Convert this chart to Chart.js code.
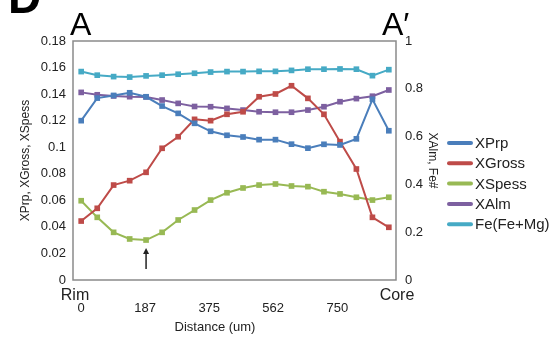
<!DOCTYPE html>
<html>
<head>
<meta charset="utf-8">
<script src="https://cdn.jsdelivr.net/npm/chart.js@4"></script>
<style>
  html, body { margin: 0; padding: 0; background: #fff; }
</style>
</head>
<body>
<canvas id="chart" width="556" height="349"></canvas>
<script>
  // distance along traverse (um), rim -> core
  const distance = [0, 47, 95, 142, 190, 237, 284, 332, 379, 427, 474, 521, 569, 616, 664, 711, 758, 806, 853, 901];
  const xTickValues = [0, 187, 375, 562, 750];

  const xPrp = [0.120, 0.137, 0.139, 0.141, 0.138, 0.131, 0.1255, 0.118, 0.112, 0.109, 0.1077, 0.1057, 0.1057, 0.1023, 0.0993, 0.1022, 0.1017, 0.1063, 0.1361, 0.1124];
  const xGross = [0.0444, 0.054, 0.0715, 0.0748, 0.0811, 0.0992, 0.1079, 0.121, 0.120, 0.1248, 0.1267, 0.138, 0.1401, 0.1463, 0.1368, 0.1248, 0.1042, 0.0836, 0.0472, 0.0397];
  const xSpess = [0.0597, 0.0472, 0.0359, 0.0309, 0.0301, 0.0359, 0.0452, 0.0527, 0.0602, 0.0657, 0.0693, 0.0715, 0.0723, 0.0708, 0.0703, 0.0665, 0.0648, 0.0623, 0.0602, 0.0623];
  const xAlm = [0.785, 0.775, 0.770, 0.767, 0.766, 0.753, 0.739, 0.726, 0.725, 0.718, 0.711, 0.704, 0.702, 0.702, 0.711, 0.725, 0.746, 0.759, 0.769, 0.795];
  const feNum = [0.872, 0.857, 0.851, 0.849, 0.854, 0.857, 0.861, 0.865, 0.870, 0.872, 0.872, 0.873, 0.873, 0.877, 0.882, 0.882, 0.883, 0.882, 0.855, 0.880];

  const FONT = "'Liberation Sans', Arial, sans-serif";
  const TXT = "#222";

  const pts = (arr) => arr.map((v, i) => ({ x: distance[i], y: v }));
  const series = (label, arr, color, axis) => ({
    label,
    data: pts(arr),
    yAxisID: axis,
    borderColor: color,
    backgroundColor: color,
    borderWidth: 2,
    pointStyle: "rect",
    pointRadius: 4,
    pointBorderWidth: 0,
    tension: 0,
  });

  // frame, annotations and legend drawn on top of the chart
  const decor = {
    id: "decor",
    beforeDatasetsDraw(chart) {
      const { ctx, chartArea: a } = chart;
      ctx.save();
      ctx.strokeStyle = "#8a8a8a";
      ctx.lineWidth = 1.5;
      ctx.strokeRect(a.left, a.top, a.right - a.left, a.bottom - a.top);
      ctx.restore();
    },
    afterDraw(chart) {
      const { ctx, chartArea: a, scales } = chart;
      ctx.save();
      ctx.fillStyle = "#000";
      ctx.textBaseline = "alphabetic";

      ctx.font = "bold 46px " + FONT;
      ctx.textAlign = "left";
      ctx.fillText("D", 8, 13);

      ctx.font = "32px " + FONT;
      ctx.fillText("A", a.left - 3, 35);
      ctx.fillText("A\u2032", a.right - 14, 35);

      ctx.font = "16px " + FONT;
      ctx.fillStyle = TXT;
      ctx.textAlign = "center";
      ctx.fillText("Rim", a.left + 2, 300);
      ctx.fillText("Core", a.right + 1, 300);

      ctx.font = "13px " + FONT;
      ctx.fillText("Distance (um)", 215, 331);

      // arrow under the XSpess minimum
      const ax = scales.x.getPixelForValue(distance[4]);
      const ay = scales.y.getPixelForValue(xSpess[4]) + 8;
      ctx.strokeStyle = "#222";
      ctx.fillStyle = "#222";
      ctx.lineWidth = 1.5;
      ctx.beginPath();
      ctx.moveTo(ax, ay + 3);
      ctx.lineTo(ax, ay + 21);
      ctx.stroke();
      ctx.beginPath();
      ctx.moveTo(ax, ay);
      ctx.lineTo(ax - 3, ay + 6);
      ctx.lineTo(ax + 3, ay + 6);
      ctx.closePath();
      ctx.fill();

      // legend
      ctx.font = "15px " + FONT;
      ctx.textAlign = "left";
      ctx.textBaseline = "middle";
      chart.data.datasets.forEach((ds, i) => {
        const y = 143 + i * 20.3;
        ctx.strokeStyle = ds.borderColor;
        ctx.lineWidth = 4;
        ctx.lineCap = "round";
        ctx.beginPath();
        ctx.moveTo(449, y);
        ctx.lineTo(471, y);
        ctx.stroke();
        ctx.fillStyle = TXT;
        ctx.fillText(ds.label, 475, y + 1);
      });
      ctx.restore();
    },
  };

  new Chart(document.getElementById("chart"), {
    type: "line",
    data: {
      datasets: [
        series("XPrp", xPrp, "#4a7ebb", "y"),
        series("XGross", xGross, "#be4b48", "y"),
        series("XSpess", xSpess, "#98b954", "y"),
        series("XAlm", xAlm, "#7d60a0", "y1"),
        series("Fe(Fe+Mg)", feNum, "#46aac5", "y1"),
      ],
    },
    options: {
      responsive: false,
      animation: false,
      devicePixelRatio: 1,
      layout: { padding: { top: 41, right: 110, bottom: 0, left: 0 } },
      plugins: { legend: { display: false }, tooltip: { enabled: false } },
      scales: {
        x: {
          type: "linear",
          min: -24,
          max: 922,
          afterBuildTicks: (s) => { s.ticks = xTickValues.map((v) => ({ value: v })); },
          afterFit: (s) => { s.height = 69; },
          grid: { display: false, drawTicks: false },
          border: { display: false },
          ticks: {
            padding: 21,
            autoSkip: false,
            maxRotation: 0,
            color: TXT,
            font: { family: FONT, size: 13 },
            callback: (v) => String(v),
          },
        },
        y: {
          position: "left",
          min: 0,
          max: 0.18,
          afterFit: (s) => { s.width = 73; },
          grid: { display: false, drawTicks: false },
          border: { display: false },
          ticks: {
            stepSize: 0.02,
            padding: 7,
            color: TXT,
            font: { family: FONT, size: 13 },
            callback: (v) => String(+v.toFixed(2)),
          },
          title: {
            display: true,
            text: "XPrp, XGross, XSpess",
            color: TXT,
            font: { family: FONT, size: 12 },
            padding: { top: 18, bottom: 0 },
          },
        },
        y1: {
          position: "right",
          min: 0,
          max: 1,
          afterFit: (s) => { s.width = 50; },
          grid: { display: false, drawTicks: false },
          border: { display: false },
          ticks: {
            stepSize: 0.2,
            padding: 9,
            color: TXT,
            font: { family: FONT, size: 13 },
            callback: (v) => String(+v.toFixed(1)),
          },
          title: {
            display: true,
            text: "XAlm, Fe#",
            color: TXT,
            font: { family: FONT, size: 12 },
            padding: { top: 6, bottom: 0 },
          },
        },
      },
    },
    plugins: [decor],
  });
</script>
</body>
</html>
